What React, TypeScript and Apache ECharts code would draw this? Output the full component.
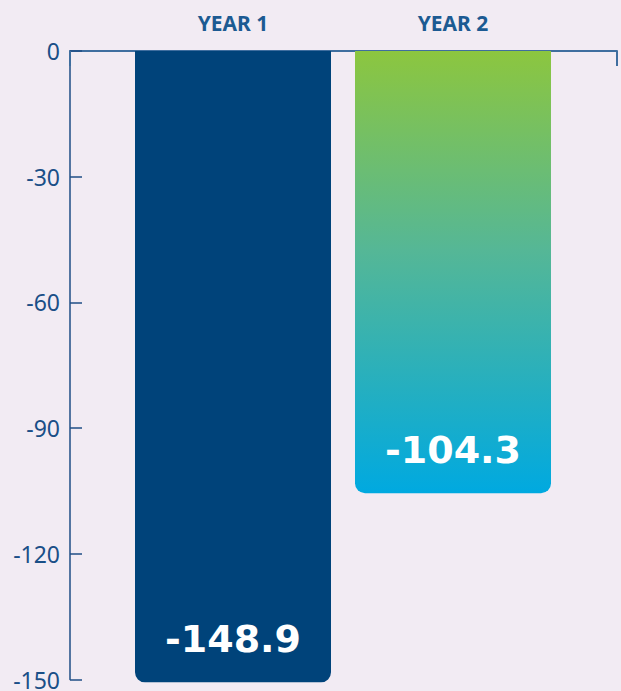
import React, { useEffect, useRef } from "react";
import * as echarts from "echarts";

const categories = ["YEAR 1", "YEAR 2"];
const values = [-148.9, -104.3];
const yMin = -150;
const yMax = 0;
const yStep = 30;

export default function App() {
  const ref = useRef<HTMLDivElement>(null);
  useEffect(() => {
    if (!ref.current) return;
    const chart = echarts.init(ref.current, undefined, { renderer: "svg" });
    const axisColor = "#1f4e86";
    const barColors = [
      "#00437a",
      new echarts.graphic.LinearGradient(0, 0, 0, 1, [
        { offset: 0, color: "#8cc63f" },
        { offset: 0.45, color: "#55b796" },
        { offset: 1, color: "#00a9e0" },
      ]),
    ];
    chart.setOption({
      animation: false,
      backgroundColor: "#f2ebf3",
      grid: [
        { left: 123, right: 58, top: 51, bottom: 4 },
        { left: 70, right: 4, top: 51, bottom: 4 },
      ],
      xAxis: [
        {
          type: "category",
          gridIndex: 0,
          data: categories,
          position: "top",
          axisLine: { show: false },
          axisTick: { show: false },
          axisLabel: {
            color: "#1c5a92",
            fontFamily: "Noto Sans",
            fontWeight: "bold",
            fontSize: 21,
            margin: 18,
          },
        },
        {
          type: "value",
          gridIndex: 1,
          min: 0,
          max: 1,
          interval: 1,
          position: "top",
          axisLine: { show: true, lineStyle: { color: "#3f6e9f", width: 2 } },
          axisTick: { show: true, inside: true, length: 15, lineStyle: { color: "#3f6e9f", width: 2 } },
          axisLabel: { show: false },
          splitLine: { show: false },
        },
      ],
      yAxis: [
        {
          type: "value",
          gridIndex: 0,
          min: yMin,
          max: yMax,
          show: false,
        },
        {
          type: "value",
          gridIndex: 1,
          min: yMin,
          max: yMax,
          interval: yStep,
          axisLine: { show: true, lineStyle: { color: axisColor, width: 1.5 } },
          axisTick: { show: true, inside: true, length: 12, lineStyle: { color: axisColor, width: 1.5 } },
          axisLabel: {
            color: "#1a4f87",
            fontFamily: "Noto Sans",
            fontSize: 23,
            margin: 10,
          },
          splitLine: { show: false },
        },
      ],
      series: [
        {
          type: "bar",
          xAxisIndex: 0,
          yAxisIndex: 0,
          barWidth: 196,
          data: values.map((v, i) => ({
            value: v,
            itemStyle: { color: barColors[i], borderRadius: [0, 0, 10, 10] },
          })),
          label: {
            show: true,
            position: "insideBottom",
            distance: 24,
            color: "#ffffff",
            fontFamily: "DejaVu Sans",
            fontWeight: "bold",
            fontSize: 38,
            formatter: (p: any) => p.value.toFixed(1),
          },
        },
      ],
    });
    return () => chart.dispose();
  }, []);
  return <div ref={ref} style={{ width: 621, height: 691, position: "absolute", left: 0, top: 0 }} />;
}
